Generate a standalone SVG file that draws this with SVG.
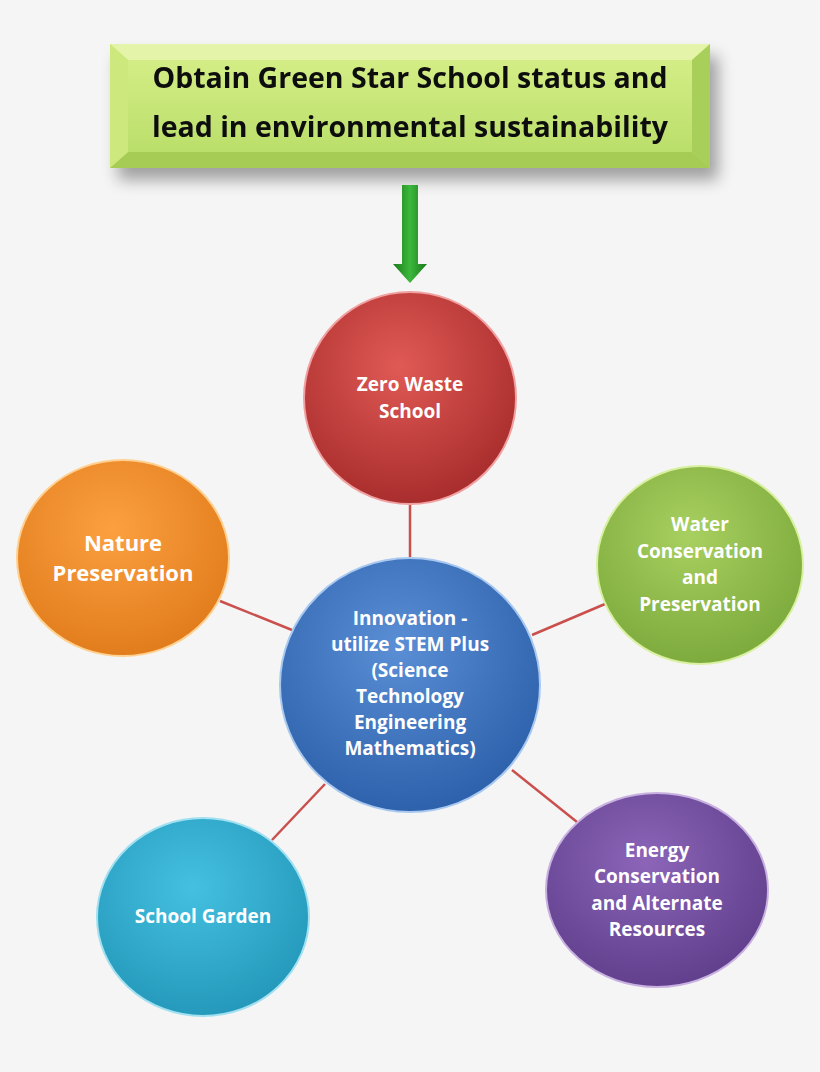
<svg xmlns="http://www.w3.org/2000/svg" width="820" height="1072" viewBox="0 0 820 1072">
<defs>
<style>
.t{font-family:"Open Sans","Liberation Sans",sans-serif;font-weight:bold;fill:#fff;text-anchor:middle;font-size:19px}
.big{font-size:22px}
.h{font-family:"Open Sans","Liberation Sans",sans-serif;font-weight:bold;fill:#111;text-anchor:middle;font-size:28.5px}
.c{stroke:#c9504c;stroke-width:2.5}
</style>
<radialGradient id="gr" cx="45%" cy="35%" r="70%"><stop offset="0" stop-color="#e05a55"/><stop offset="1" stop-color="#a52a2a"/></radialGradient>
<radialGradient id="gb" cx="45%" cy="35%" r="70%"><stop offset="0" stop-color="#5a8fd6"/><stop offset="1" stop-color="#2a5ea8"/></radialGradient>
<radialGradient id="go" cx="45%" cy="35%" r="70%"><stop offset="0" stop-color="#fba040"/><stop offset="1" stop-color="#e07a1a"/></radialGradient>
<radialGradient id="gg" cx="45%" cy="35%" r="70%"><stop offset="0" stop-color="#a8d060"/><stop offset="1" stop-color="#7aa83a"/></radialGradient>
<radialGradient id="gt" cx="45%" cy="35%" r="70%"><stop offset="0" stop-color="#45c0e0"/><stop offset="1" stop-color="#2296b8"/></radialGradient>
<radialGradient id="gp" cx="45%" cy="35%" r="70%"><stop offset="0" stop-color="#8c65b8"/><stop offset="1" stop-color="#5e3d8a"/></radialGradient>
<linearGradient id="gh" x1="0" y1="0" x2="0" y2="1"><stop offset="0" stop-color="#d8f08a"/><stop offset="1" stop-color="#b6dc66"/></linearGradient>
<linearGradient id="ga" x1="0" y1="0" x2="1" y2="0"><stop offset="0" stop-color="#1a7a1a"/><stop offset="0.5" stop-color="#3cb83c"/><stop offset="1" stop-color="#1a7a1a"/></linearGradient>
<filter id="sh" x="-20%" y="-20%" width="150%" height="150%"><feGaussianBlur in="SourceAlpha" stdDeviation="8"/><feOffset dx="8" dy="12"/><feComponentTransfer><feFuncA type="linear" slope="0.35"/></feComponentTransfer><feMerge><feMergeNode/><feMergeNode in="SourceGraphic"/></feMerge></filter>
</defs>
<rect width="820" height="1072" fill="#f5f5f5"/>
<g id="connectors">
<line class="c" x1="410" y1="505" x2="410" y2="557"/>
<line class="c" x1="220" y1="601" x2="292" y2="630"/>
<line class="c" x1="605" y1="604" x2="532" y2="635"/>
<line class="c" x1="272" y1="840" x2="325" y2="784"/>
<line class="c" x1="577" y1="822" x2="512" y2="770"/>
</g>
<g id="header" filter="url(#sh)">
<rect x="110" y="44" width="600" height="124" fill="url(#gh)"/>
<polygon points="110,44 710,44 692,60 128,60" fill="#e4f4a8"/>
<polygon points="110,168 710,168 692,152 128,152" fill="#a6cc55"/>
<polygon points="110,44 128,60 128,152 110,168" fill="#cde87c"/>
<polygon points="710,44 692,60 692,152 710,168" fill="#a8cf5a"/>
<text class="h" x="410" y="88">Obtain Green Star School status and</text>
<text class="h" x="410" y="137">lead in environmental sustainability</text>
</g>
<g id="arrow"><polygon points="402,185 418,185 418,264 427,264 410,283 393,264 402,264" fill="url(#ga)"/></g>
<g id="zero"><ellipse cx="410" cy="398" rx="106" ry="106" fill="url(#gr)" stroke="#f0a0a0" stroke-width="2"/>
<text class="t" x="410" y="391">Zero Waste</text><text class="t" x="410" y="418">School</text></g>
<g id="nature"><ellipse cx="123" cy="558" rx="106" ry="98" fill="url(#go)" stroke="#ffd090" stroke-width="2"/>
<text class="t big" x="123" y="551">Nature</text><text class="t big" x="123" y="581">Preservation</text></g>
<g id="water"><ellipse cx="700" cy="565" rx="103" ry="99" fill="url(#gg)" stroke="#d8f0a0" stroke-width="2"/>
<text class="t" x="700" y="531">Water</text><text class="t" x="700" y="558">Conservation</text><text class="t" x="700" y="584">and</text><text class="t" x="700" y="611">Preservation</text></g>
<g id="center"><ellipse cx="410" cy="685" rx="130" ry="127" fill="url(#gb)" stroke="#a8c8f0" stroke-width="2"/>
<text class="t" x="410" y="625">Innovation -</text><text class="t" x="410" y="651">utilize STEM Plus</text><text class="t" x="410" y="677">(Science</text><text class="t" x="410" y="703">Technology</text><text class="t" x="410" y="729">Engineering</text><text class="t" x="410" y="755">Mathematics)</text></g>
<g id="garden"><ellipse cx="203" cy="917" rx="106" ry="99" fill="url(#gt)" stroke="#a0e0f0" stroke-width="2"/>
<text class="t" x="203" y="923">School Garden</text></g>
<g id="energy"><ellipse cx="657" cy="890" rx="111" ry="97" fill="url(#gp)" stroke="#c8b0e0" stroke-width="2"/>
<text class="t" x="657" y="857">Energy</text><text class="t" x="657" y="883">Conservation</text><text class="t" x="657" y="910">and Alternate</text><text class="t" x="657" y="936">Resources</text></g>
</svg>
